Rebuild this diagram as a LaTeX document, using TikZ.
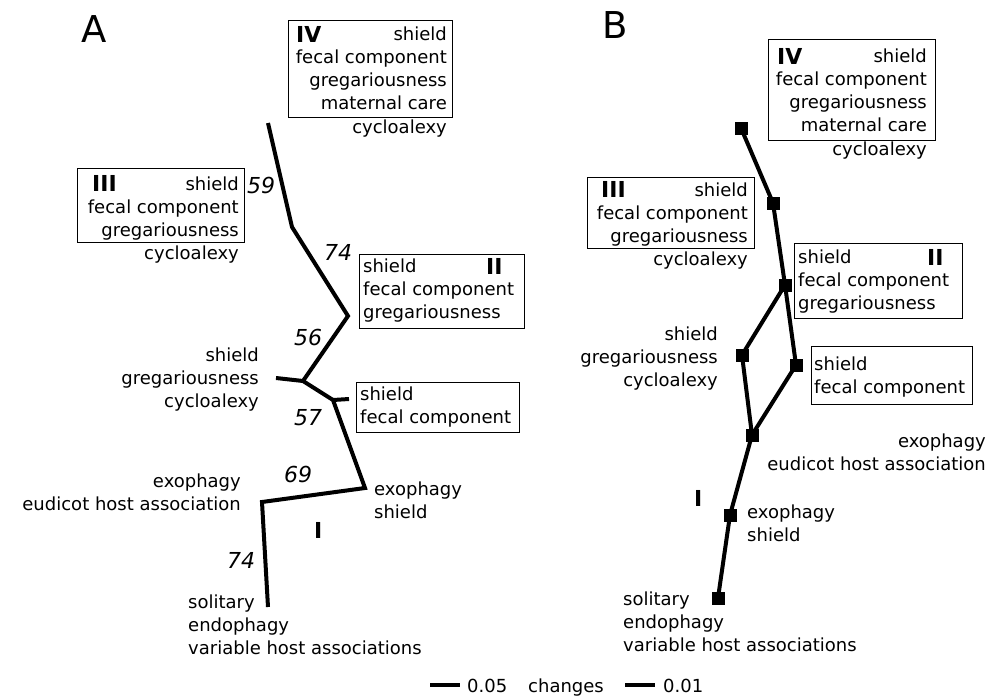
\documentclass[tikz,border=0pt]{standalone}
\usepackage{fontspec}
\setmainfont{DejaVu Sans}
\newcommand\mylines[2]{\begin{tabular}[t]{@{}#1@{}}#2\end{tabular}}
\begin{document}
\begin{tikzpicture}[x=1pt,y=-1pt,
  txt/.style={inner sep=0pt, font=\fontsize{18}{23.3}\selectfont},
  num/.style={inner sep=0pt, font=\fontsize{22}{23}\selectfont\itshape, anchor=base west},
  roman/.style={inner sep=0pt, font=\fontsize{22}{23}\selectfont\bfseries, anchor=base west},
  panel/.style={inner sep=0pt, font=\fontsize{37}{37}\selectfont, anchor=base west},
  frame/.style={draw=black, line width=0.8pt, inner sep=0pt, anchor=north west},
  branch/.style={line width=4pt},
  sq/.style={fill=black, minimum size=13pt, inner sep=0pt},
]
\useasboundingbox (0,0) rectangle (990,699);

% ---------------- Panel A ----------------
\node[panel] (labA) at (81,42) {A};

\node[frame, minimum width=164pt, minimum height=97pt] (boxIVa) at (288,20) {};
\node[txt, anchor=base east] (tIVa) at (447,40) {\mylines{r}{shield\\fecal component\\gregariousness\\maternal care\\cycloalexy}};
\node[roman] (rIVa) at (296,42) {IV};

\node[frame, minimum width=167pt, minimum height=74pt] (boxIIIa) at (77,168) {};
\node[txt, anchor=base east] (tIIIa) at (239,190) {\mylines{r}{shield\\fecal component\\gregariousness\\cycloalexy}};
\node[roman] (rIIIa) at (92,191) {III};

\node[frame, minimum width=165pt, minimum height=74pt] (boxIIa) at (359,254) {};
\node[txt, anchor=base west] (tIIa) at (363,272) {\mylines{l}{shield\\fecal component\\gregariousness}};
\node[roman] (rIIa) at (486,274) {II};

\node[txt, anchor=base east] (tSGCa) at (259,361) {\mylines{r}{shield\\gregariousness\\cycloalexy}};

\node[frame, minimum width=163pt, minimum height=50pt] (boxSFa) at (356,382) {};
\node[txt, anchor=base west] (tSFa) at (360,400) {\mylines{l}{shield\\fecal component}};

\node[txt, anchor=base east] (tEEa) at (241,487) {\mylines{r}{exophagy\\eudicot host association}};
\node[txt, anchor=base west] (tESa) at (374,495) {\mylines{l}{exophagy\\shield}};
\node[roman] (rIa) at (314,538) {I};
\node[txt, anchor=base west] (tSolA) at (188,608) {\mylines{l}{solitary\\endophagy\\variable host associations}};

\coordinate (a1) at (268,123);
\coordinate (a2) at (292,227);
\coordinate (a3) at (348,316);
\coordinate (a4) at (303,381);
\coordinate (a5) at (276,378);
\coordinate (a6) at (333,400);
\coordinate (a7) at (349,399);
\coordinate (a8) at (365,488);
\coordinate (a9) at (262,502);
\coordinate (a10) at (268,607);
\draw[branch] (a1) -- (a2) -- (a3) -- (a4) -- (a6) -- (a8) -- (a9) -- (a10);
\draw[branch] (a4) -- (a5);
\draw[branch] (a6) -- (a7);

\node[num] (n59) at (247,193) {59};
\node[num] (n74a) at (324,260) {74};
\node[num] (n56) at (294,345) {56};
\node[num] (n57) at (294,425) {57};
\node[num] (n69) at (284,482) {69};
\node[num] (n74b) at (227,568) {74};

% ---------------- Panel B ----------------
\node[panel] (labB) at (602,38) {B};

\node[frame, minimum width=167pt, minimum height=101pt] (boxIVb) at (768,39) {};
\node[txt, anchor=base east] (tIVb) at (927,62) {\mylines{r}{shield\\fecal component\\gregariousness\\maternal care\\cycloalexy}};
\node[roman] (rIVb) at (777,64) {IV};

\node[frame, minimum width=167pt, minimum height=71pt] (boxIIIb) at (587,177) {};
\node[txt, anchor=base east] (tIIIb) at (748,196) {\mylines{r}{shield\\fecal component\\gregariousness\\cycloalexy}};
\node[roman] (rIIIb) at (601,197) {III};

\node[frame, minimum width=168pt, minimum height=75pt] (boxIIb) at (794,243) {};
\node[txt, anchor=base west] (tIIb) at (798,263) {\mylines{l}{shield\\fecal component\\gregariousness}};
\node[roman] (rIIb) at (927,265) {II};

\node[txt, anchor=base east] (tSGCb) at (718,340) {\mylines{r}{shield\\gregariousness\\cycloalexy}};

\node[frame, minimum width=161pt, minimum height=58pt] (boxSFb) at (811,346) {};
\node[txt, anchor=base west] (tSFb) at (814,370) {\mylines{l}{shield\\fecal component}};

\node[txt, anchor=base east] (tEEb) at (986,447) {\mylines{r}{exophagy\\eudicot host association}};
\node[roman] (rIb) at (694,506) {I};
\node[txt, anchor=base west] (tESb) at (747,518) {\mylines{l}{exophagy\\shield}};
\node[txt, anchor=base west] (tSolB) at (623,605) {\mylines{l}{solitary\\endophagy\\variable host associations}};

\node[sq] (b1) at (741,128) {};
\node[sq] (b2) at (773,203) {};
\node[sq] (b3) at (785,285) {};
\node[sq] (b4) at (742,355) {};
\node[sq] (b5) at (796,365) {};
\node[sq] (b6) at (752,435) {};
\node[sq] (b7) at (730,515) {};
\node[sq] (b8) at (718,598) {};
\draw[branch] (b1.center) -- (b2.center) -- (b3.center) -- (b5.center) -- (b6.center) -- (b7.center) -- (b8.center);
\draw[branch] (b3.center) -- (b4.center) -- (b6.center);

% ---------------- Scale bars ----------------
\coordinate (s1a) at (430,685);
\coordinate (s1b) at (460,685);
\coordinate (s2a) at (625,685);
\coordinate (s2b) at (655,685);
\draw[branch] (s1a) -- (s1b);
\draw[branch] (s2a) -- (s2b);
\node[txt, anchor=base west] (sc1) at (467,692) {0.05};
\node[txt, anchor=base west] (sc2) at (528,692) {changes};
\node[txt, anchor=base west] (sc3) at (663,692) {0.01};
\end{tikzpicture}
\end{document}
